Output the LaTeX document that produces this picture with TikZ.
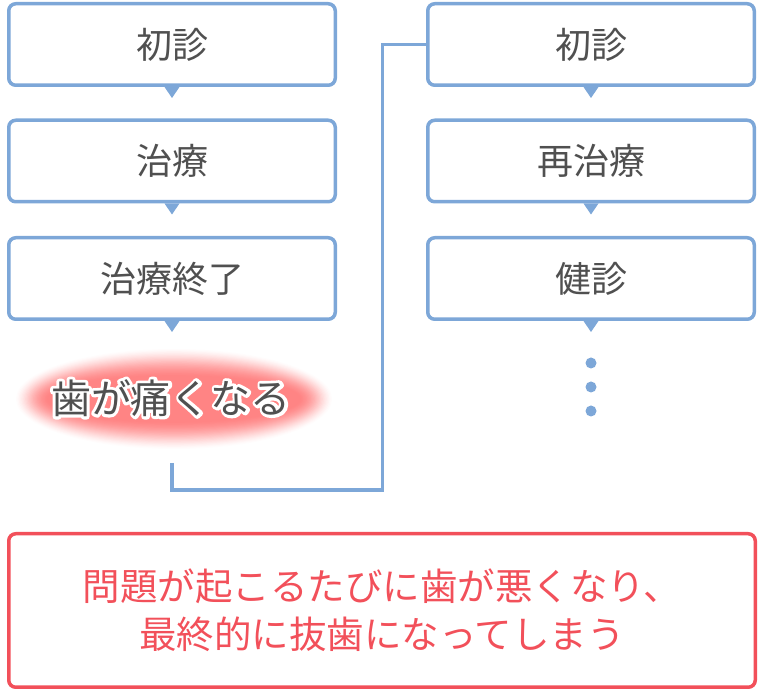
\documentclass[tikz,border=0pt]{standalone}
\usepackage{fontspec}
\newfontfamily\jp{Noto Sans CJK JP}
\usetikzlibrary{calc}
\definecolor{boxblue}{HTML}{7DA7D8}
\definecolor{textgray}{HTML}{505050}
\definecolor{alertred}{HTML}{F2505A}
\definecolor{glowred}{HTML}{FF7878}
\newcommand{\outlinetext}[1]{\special{pdf:literal direct 1 j 6 w 2 Tr}#1\special{pdf:literal direct 0 Tr 1 w 0 j}}
\tikzset{
  stepbox/.style={draw=boxblue, line width=3.5pt, rounded corners=7pt, fill=white,
    minimum width=326.5pt, minimum height=81.5pt, inner sep=0pt,
    font=\jp\fontsize{36}{40}\selectfont, text=textgray},
  conn/.style={draw=boxblue, line width=3.5pt},
  dotnode/.style={circle, fill=boxblue, minimum size=11pt, inner sep=0pt},
  glowtext/.style={font=\jp\fontsize{40}{44}\selectfont, inner sep=0pt},
  alertbox/.style={draw=alertred, line width=3.5pt, rounded corners=7pt,
    minimum width=746.5pt, minimum height=153.5pt, inner sep=0pt, align=center,
    font=\jp\fontsize{37.5}{48}\selectfont, text=alertred}
}
\begin{document}
\begin{tikzpicture}[x=1pt,y=-1pt]
\useasboundingbox (0,0) rectangle (764,692);
% left column
\node[stepbox] (l1) at (172,44.5) {初診};
\node[stepbox] (l2) at (172,161) {治療};
\node[stepbox] (l3) at (172,278.5) {治療終了};
% right column
\node[stepbox] (r1) at (591,44.5) {初診};
\node[stepbox] (r2) at (591,161) {再治療};
\node[stepbox] (r3) at (591,278.5) {健診};
% pointers
\foreach \n in {l1,l2,l3,r1,r2,r3}{
  \fill[boxblue] ($(\n.south)+(-7.5,0)$) -- ($(\n.south)+(7.5,0)$) -- ($(\n.south)+(0,11)$) -- cycle;
}
% dots
\node[dotnode] (d1) at (591,363) {};
\node[dotnode] (d2) at (591,387) {};
\node[dotnode] (d3) at (591,411) {};
% glow
\foreach \i in {0,...,24}{
  \pgfmathsetmacro\op{0.02+0.006*\i}
  \fill[glowred, fill opacity=\op] (174,399) ellipse [x radius={158-1.3*\i}, y radius={50-1.1*\i}];
}
\node[glowtext, text=white] (gw) at (171,398) {\outlinetext{歯が痛くなる}};
\node[glowtext, text=textgray] (g) at (171,398) {歯が痛くなる};
% connector
\coordinate (cstart) at (172,463);
\coordinate (cturn) at (382.5,490);
\draw[conn] (cstart) |- (cturn) |- (r1.west);
% bottom box
\node[alertbox] (alert) at (382,610.5) {問題が起こるたびに歯が悪くなり、\\最終的に抜歯になってしまう};
\end{tikzpicture}
\end{document}
